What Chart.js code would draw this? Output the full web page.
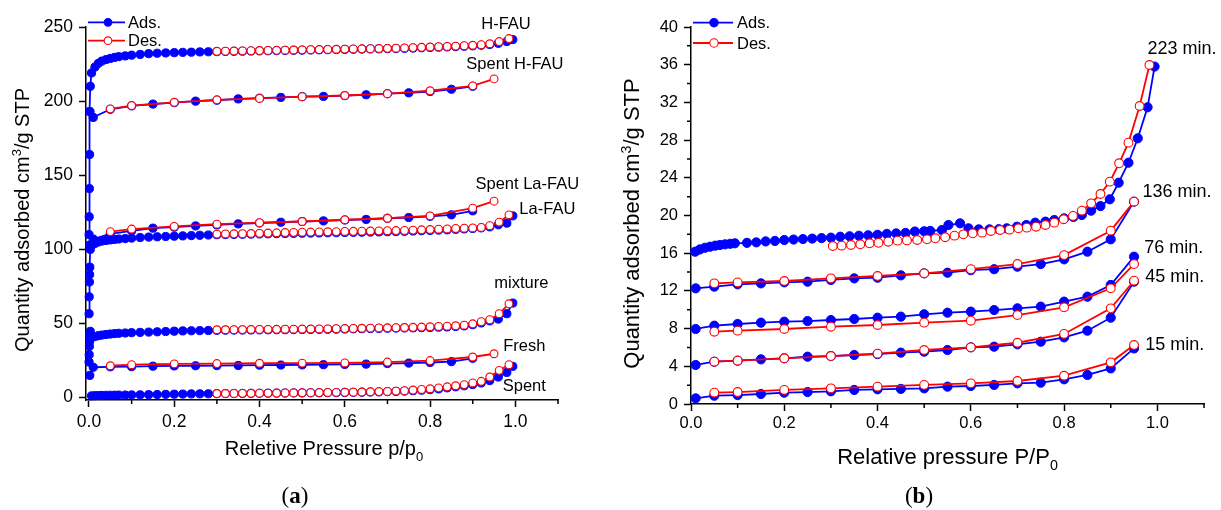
<!DOCTYPE html>
<html>
<head>
<meta charset="utf-8">
<script src="https://cdn.jsdelivr.net/npm/chart.js@4.4.1/dist/chart.umd.min.js"></script>
<style>
  html, body { margin: 0; padding: 0; background: #fff; }
  #wrap { position: relative; width: 1221px; height: 510px; background: #fff; }
  canvas { position: absolute; top: 0; }
  #chartA { left: 0; }
  #chartB { left: 610px; }
</style>
</head>
<body>
<div id="wrap">
  <canvas id="chartA" width="610" height="510"></canvas>
  <canvas id="chartB" width="611" height="510"></canvas>
</div>
<script>
// ---------- panel (a): N2 isotherms of the FAU samples ----------
const leftXTicks = [0, 0.2, 0.4, 0.6, 0.8, 1.0];
const leftXMinor = [0.1, 0.3, 0.5, 0.7, 0.9, 1.1];
const leftYTicks = [0, 50, 100, 150, 200, 250];

// dense measurement (H-FAU, La-FAU, mixture, Spent)
const denseAdsX = [0.0002, 0.0005, 0.001, 0.0015, 0.002, 0.003,
  0.006, 0.014, 0.022, 0.03, 0.04, 0.05, 0.06, 0.07, 0.085, 0.1,
  0.12, 0.14, 0.16, 0.18, 0.2, 0.22, 0.24, 0.26, 0.28, 0.3,
  0.32, 0.34, 0.36, 0.38, 0.4, 0.42, 0.44, 0.46, 0.48, 0.5,
  0.52, 0.54, 0.56, 0.58, 0.6, 0.62, 0.64, 0.66, 0.68, 0.7,
  0.72, 0.74, 0.76, 0.78, 0.8, 0.82, 0.84, 0.86, 0.88, 0.9,
  0.92, 0.94, 0.96, 0.98, 0.994];
const denseDesX = [0.3, 0.32, 0.34, 0.36, 0.38, 0.4, 0.42, 0.44, 0.46, 0.48,
  0.5, 0.52, 0.54, 0.56, 0.58, 0.6, 0.62, 0.64, 0.66, 0.68,
  0.7, 0.72, 0.74, 0.76, 0.78, 0.8, 0.82, 0.84, 0.86, 0.88,
  0.9, 0.92, 0.94, 0.962, 0.985];

const hfauAds = [110, 122, 141, 164, 193, 210,
  219, 223, 225.5, 227, 228, 228.8, 229.5, 230, 230.5, 231,
  231.5, 232, 232.3, 232.5, 232.7, 232.9, 233, 233.2, 233.3, 233.4,
  233.5, 233.6, 233.7, 233.8, 233.9, 234.0, 234.1, 234.2, 234.3, 234.4,
  234.5, 234.6, 234.7, 234.8, 234.9, 235.0, 235.1, 235.2, 235.3, 235.4,
  235.5, 235.6, 235.8, 236.0, 236.2, 236.4, 236.6, 236.8, 237.0, 237.3,
  237.7, 238.2, 239.0, 240.2, 241.5];
const hfauDes = [233.6, 233.7, 233.8, 233.9, 234.0, 234.1, 234.2, 234.3, 234.4, 234.5,
  234.6, 234.7, 234.8, 234.9, 235.0, 235.1, 235.2, 235.3, 235.4, 235.5,
  235.6, 235.7, 235.9, 236.1, 236.3, 236.5, 236.7, 236.9, 237.1, 237.4,
  237.7, 238.1, 238.7, 240.2, 242.2];

const laFauAds = [56.6, 68, 78, 83, 88, 100,
  102.5, 104, 105, 105.6, 106, 106.4, 106.7, 107, 107.3, 107.6,
  108, 108.3, 108.5, 108.7, 108.9, 109.1, 109.3, 109.5, 109.7, 109.9,
  110.0, 110.1, 110.2, 110.3, 110.4, 110.5, 110.6, 110.7, 110.8, 110.9,
  111.0, 111.1, 111.2, 111.3, 111.4, 111.5, 111.6, 111.7, 111.8, 111.9,
  112.0, 112.2, 112.4, 112.6, 112.8, 113.0, 113.2, 113.5, 113.8, 114.1,
  114.5, 115.2, 116.6, 117.7, 122.6];
const laFauDes = [110.3, 110.4, 110.5, 110.6, 110.7, 110.8, 111.0, 111.2, 111.4, 111.5,
  111.6, 111.7, 111.8, 111.9, 112.0, 112.1, 112.2, 112.3, 112.4, 112.5,
  112.6, 112.7, 112.8, 113.0, 113.2, 113.4, 113.6, 113.8, 114.1, 114.3,
  114.5, 114.8, 116.0, 118.4, 123.3];

const mixtureAds = [24, 29, 34.6, 38, 42, 44.7,
  40.5, 41.2, 41.8, 42.2, 42.6, 42.9, 43.2, 43.4, 43.6, 43.8,
  44.0, 44.2, 44.4, 44.6, 44.8, 45.0, 45.1, 45.2, 45.3, 45.4,
  45.5, 45.55, 45.6, 45.65, 45.7, 45.75, 45.8, 45.85, 45.9, 45.95,
  46.0, 46.05, 46.1, 46.2, 46.3, 46.4, 46.5, 46.6, 46.7, 46.8,
  46.9, 47.0, 47.1, 47.2, 47.3, 47.5, 47.7, 48.0, 48.4, 49.2,
  50.4, 51.8, 53.0, 56.6, 63.8];
const mixtureDes = [45.8, 45.8, 45.85, 45.9, 45.95, 46.0, 46.05, 46.1, 46.15, 46.2,
  46.25, 46.3, 46.35, 46.4, 46.5, 46.6, 46.7, 46.8, 46.9, 47.0,
  47.1, 47.2, 47.3, 47.45, 47.6, 47.8, 48.0, 48.2, 48.5, 48.9,
  49.8, 51.2, 52.6, 56.6, 63.3];

const spentAds = [null, null, null, null, null, null,
  1.2, 1.3, 1.4, 1.5, 1.55, 1.6, 1.65, 1.7, 1.75, 1.8,
  1.9, 2.0, 2.1, 2.2, 2.3, 2.4, 2.5, 2.55, 2.6, 2.7,
  2.75, 2.8, 2.85, 2.9, 2.95, 3.0, 3.05, 3.1, 3.15, 3.2,
  3.25, 3.3, 3.35, 3.4, 3.5, 3.6, 3.7, 3.8, 3.9, 4.05,
  4.2, 4.4, 4.7, 5.0, 5.4, 5.9, 6.6, 7.3, 8.0, 8.8,
  9.9, 11.5, 13.9, 17.0, 21.1];
const spentDes = [2.75, 2.8, 2.85, 2.9, 2.95, 3.0, 3.05, 3.1, 3.15, 3.2,
  3.3, 3.35, 3.4, 3.5, 3.55, 3.6, 3.7, 3.8, 3.95, 4.05,
  4.2, 4.4, 4.7, 5.1, 5.5, 6.0, 6.6, 7.3, 8.0, 8.8,
  9.9, 11.0, 13.9, 18.4, 22.2];

// sparse measurement (Spent H-FAU, Spent La-FAU, Fresh)
const sparseAdsX = [0.002, 0.01, 0.05, 0.1, 0.15, 0.2, 0.25, 0.3, 0.35, 0.4,
  0.45, 0.5, 0.55, 0.6, 0.65, 0.7, 0.75, 0.8, 0.85, 0.9];
const sparseDesX = [0.05, 0.1, 0.2, 0.3, 0.4, 0.5, 0.6, 0.7, 0.8, 0.9, 0.95];

const spentHfauAds = [193, 189, 194.5, 196.8, 198, 199, 200, 200.6, 201.5, 202,
  202.5, 203, 203.2, 203.7, 204.3, 205, 205.6, 206.5, 208, 210];
const spentHfauDes = [194.8, 197, 199.2, 200.9, 201.8, 203, 203.8, 205, 207, 210.3, 215];
const spentLaFauAds = [103, 107, 110.5, 112.5, 114.3, 115, 115.8, 116.5, 117.2, 117.8,
  118.3, 118.8, 119.2, 119.8, 120.2, 121, 121.5, 122.3, 123.3, 126];
const spentLaFauDes = [112, 113.7, 115.5, 117, 118, 118.8, 120, 121, 122.6, 127.8, 132.5];
const freshAds = [15, 20.5, 20.8, 20.9, 21.2, 21.4, 21.5, 21.6, 21.7, 21.9,
  22.0, 22.1, 22.2, 22.4, 22.6, 23.0, 23.3, 23.7, 24.3, 26.5];
const freshDes = [21.5, 22.2, 22.8, 23.0, 23.2, 23.3, 23.4, 24.0, 25.0, 27.4, 29.6];

const leftLabels = ["H-FAU", "Spent H-FAU", "Spent La-FAU", "La-FAU", "mixture", "Fresh", "Spent"];
const leftLabelX = [0.978, 0.999, 1.028, 1.075, 1.014, 1.021, 1.021];
const leftLabelY = [252, 225, 144, 127, 76.8, 34.3, 7.4];

// ---------- panel (b): isotherms after different times ----------
const rightXTicks = [0, 0.2, 0.4, 0.6, 0.8, 1.0];
const rightXMinor = [0.1, 0.3, 0.5, 0.7, 0.9, 1.1];
const rightYTicks = [0, 4, 8, 12, 16, 20, 24, 28, 32, 36, 40];
const rightYMinor = [2, 6, 10, 14, 18, 22, 26, 30, 34, 38];

const r223AdsX = [0.009, 0.019, 0.03, 0.041, 0.052, 0.062, 0.073, 0.084, 0.094,
  0.12, 0.14, 0.16, 0.18, 0.2, 0.22, 0.24, 0.26, 0.28, 0.3,
  0.32, 0.34, 0.36, 0.38, 0.4, 0.42, 0.44, 0.46, 0.48, 0.5,
  0.513, 0.538, 0.552, 0.577, 0.595, 0.617, 0.64, 0.66, 0.677, 0.699,
  0.719, 0.738, 0.76, 0.779, 0.8, 0.82, 0.838, 0.858, 0.878, 0.898,
  0.917, 0.938, 0.958, 0.979, 0.994];
const r223Ads = [16.16, 16.4, 16.58, 16.69, 16.8, 16.87, 16.94, 17.0, 17.05,
  17.1, 17.15, 17.25, 17.3, 17.4, 17.45, 17.5, 17.55, 17.6, 17.65,
  17.75, 17.8, 17.85, 17.9, 17.95, 18.05, 18.1, 18.15, 18.3, 18.33,
  18.36, 18.46, 18.99, 19.17, 18.64, 18.53, 18.53, 18.55, 18.64, 18.81,
  18.99, 19.24, 19.35, 19.52, 19.7, 19.85, 20.05, 20.51, 21.0, 21.72,
  23.48, 25.6, 28.19, 31.48, 35.8];
const r223DesX = [0.304, 0.323, 0.343, 0.363, 0.383, 0.402, 0.423, 0.443, 0.463, 0.485,
  0.506, 0.524, 0.545, 0.565, 0.584, 0.604, 0.624, 0.643, 0.663, 0.683,
  0.702, 0.72, 0.74, 0.76, 0.779, 0.799, 0.819, 0.838, 0.858, 0.878,
  0.898, 0.918, 0.938, 0.962, 0.983];
const r223Des = [16.76, 16.8, 16.87, 16.94, 17.05, 17.1, 17.22, 17.33, 17.36, 17.4,
  17.47, 17.58, 17.69, 17.86, 18.0, 18.11, 18.18, 18.36, 18.46, 18.5,
  18.64, 18.71, 18.81, 18.99, 19.24, 19.6, 19.95, 20.51, 21.29, 22.28,
  23.59, 25.54, 27.73, 31.62, 35.97];

const rAdsX = [0.01, 0.05, 0.1, 0.15, 0.2, 0.25, 0.3, 0.35, 0.4, 0.45,
  0.5, 0.55, 0.6, 0.65, 0.7, 0.75, 0.8, 0.85, 0.9, 0.95];
const rDesX = [0.05, 0.1, 0.2, 0.3, 0.4, 0.5, 0.6, 0.7, 0.8, 0.9, 0.95];

const r136Ads = [12.27, 12.45, 12.7, 12.8, 12.91, 12.98, 13.16, 13.33, 13.4, 13.65,
  13.86, 13.93, 14.2, 14.3, 14.57, 14.85, 15.35, 16.16, 17.47, 21.47];
const r136Des = [12.8, 12.9, 13.05, 13.33, 13.58, 13.86, 14.3, 14.85, 15.8, 18.39, 21.47];
const r76Ads = [7.96, 8.31, 8.49, 8.63, 8.73, 8.8, 8.91, 9.02, 9.16, 9.27,
  9.52, 9.69, 9.8, 9.97, 10.15, 10.33, 10.86, 11.39, 12.63, 15.63];
const r76Des = [7.67, 7.78, 7.96, 8.2, 8.38, 8.63, 8.84, 9.44, 10.26, 12.27, 14.85];
const r45Ads = [4.14, 4.49, 4.6, 4.74, 4.85, 5.02, 5.09, 5.2, 5.3, 5.45,
  5.55, 5.73, 6.01, 6.08, 6.33, 6.61, 7.07, 7.78, 9.16, 12.98];
const r45Des = [4.49, 4.6, 4.85, 5.09, 5.34, 5.73, 6.01, 6.5, 7.43, 10.15, 13.08];
const r15Ads = [0.6, 0.88, 0.95, 1.06, 1.2, 1.27, 1.35, 1.49, 1.56, 1.6,
  1.66, 1.84, 1.91, 2.02, 2.19, 2.26, 2.62, 3.08, 3.78, 5.9];
const r15Des = [1.2, 1.27, 1.49, 1.66, 1.84, 2.02, 2.19, 2.44, 3.0, 4.42, 6.26];

const rightLabels = ["223 min.", "136 min.", "76 min.", "45 min.", "15 min."];
const rightLabelX = [0.979, 0.968, 0.972, 0.974, 0.974];
const rightLabelY = [37.7, 22.5, 16.55, 13.5, 6.3];

// ---------- drawing ----------
const BLUE = "#0000ff";
const RED = "#ff0000";
const FONT = '"Liberation Sans", Arial, sans-serif';
const SERIF = '"Liberation Serif", "Times New Roman", serif';

Chart.defaults.font.family = FONT;
Chart.defaults.color = "#000";

function toPoints(xs, ys) {
  const pts = [];
  xs.forEach((x, i) => {
    if (ys[i] !== null) pts.push({ x: x, y: ys[i] });
  });
  return pts;
}

function adsSet(xs, ys, r) {
  return {
    data: toPoints(xs, ys),
    showLine: true,
    borderColor: BLUE,
    backgroundColor: BLUE,
    borderWidth: 1.8,
    pointRadius: r,
    pointBackgroundColor: BLUE,
    pointBorderColor: BLUE,
    pointBorderWidth: 1,
    order: 2,
    clip: false,
  };
}

function desSet(xs, ys, r) {
  return {
    data: toPoints(xs, ys),
    showLine: true,
    borderColor: RED,
    backgroundColor: "#fff",
    borderWidth: 1.8,
    pointRadius: r,
    pointBackgroundColor: "#fff",
    pointBorderColor: RED,
    pointBorderWidth: 1.1,
    order: 1,
    clip: false,
  };
}

// text with sub/superscripts, centred on x, y is the baseline
function drawRich(ctx, parts, x, y, size, family, rotate) {
  ctx.save();
  ctx.translate(x, y);
  if (rotate) ctx.rotate(-Math.PI / 2);
  ctx.textBaseline = "alphabetic";
  ctx.textAlign = "left";
  const fontOf = (p) => {
    const s = p.sub || p.sup ? size * 0.65 : size;
    return (p.bold ? "bold " : "") + s + "px " + family;
  };
  const widths = parts.map((p) => {
    ctx.font = fontOf(p);
    return ctx.measureText(p.t).width;
  });
  let cx = -widths.reduce((a, b) => a + b, 0) / 2;
  parts.forEach((p, i) => {
    ctx.font = fontOf(p);
    let dy = 0;
    if (p.sup) dy = -size * 0.38;
    if (p.sub) dy = size * 0.3;
    ctx.fillText(p.t, cx, dy);
    cx += widths[i];
  });
  ctx.restore();
}

function makeDecor(cfg) {
  return {
    id: "decor",
    afterDraw(chart) {
      const ctx = chart.ctx;
      const sx = chart.scales.x;
      const sy = chart.scales.y;
      const area = chart.chartArea;
      ctx.save();

      // minor ticks
      ctx.strokeStyle = "#000";
      ctx.lineWidth = 1.5;
      ctx.beginPath();
      cfg.minorX.forEach((v) => {
        const px = sx.getPixelForValue(v);
        ctx.moveTo(px, area.bottom);
        ctx.lineTo(px, area.bottom + cfg.minorLen);
      });
      cfg.minorY.forEach((v) => {
        const py = sy.getPixelForValue(v);
        ctx.moveTo(area.left, py);
        ctx.lineTo(area.left - cfg.minorLen, py);
      });
      ctx.stroke();

      // legend
      const lg = cfg.legend;
      [["Ads.", BLUE, true], ["Des.", RED, false]].forEach((row, i) => {
        const y = lg.rows[i];
        ctx.strokeStyle = row[1];
        ctx.lineWidth = 1.8;
        ctx.beginPath();
        ctx.moveTo(lg.x0, y);
        ctx.lineTo(lg.x1, y);
        ctx.stroke();
        ctx.beginPath();
        ctx.arc(lg.mx, y, lg.r, 0, Math.PI * 2);
        ctx.fillStyle = row[2] ? BLUE : "#fff";
        ctx.fill();
        ctx.lineWidth = 1.1;
        ctx.stroke();
        ctx.fillStyle = "#000";
        ctx.font = lg.size + "px " + FONT;
        ctx.textAlign = "left";
        ctx.textBaseline = "middle";
        ctx.fillText(row[0], lg.tx, y + 1);
      });

      // curve names
      ctx.fillStyle = "#000";
      ctx.font = cfg.labelSize + "px " + FONT;
      ctx.textAlign = cfg.labelAlign;
      ctx.textBaseline = "middle";
      cfg.labels.forEach((t, i) => {
        ctx.fillText(t, sx.getPixelForValue(cfg.labelX[i]), sy.getPixelForValue(cfg.labelY[i]));
      });

      // axis titles and panel letter
      ctx.fillStyle = "#000";
      drawRich(ctx, cfg.xTitle.parts, cfg.xTitle.x, cfg.xTitle.y, cfg.xTitle.size, FONT, false);
      drawRich(ctx, cfg.yTitle.parts, cfg.yTitle.x, cfg.yTitle.y, cfg.yTitle.size, FONT, true);
      drawRich(ctx, cfg.panel.parts, cfg.panel.x, cfg.panel.y, cfg.panel.size, SERIF, false);
      ctx.restore();
    },
  };
}

function axes(o) {
  const grid = { drawOnChartArea: false, drawTicks: true, tickLength: 7, tickWidth: 1.5, tickColor: "#000" };
  const border = { display: true, color: "#000", width: 1.5 };
  return {
    x: {
      type: "linear",
      min: o.xMin,
      max: o.xMax,
      afterBuildTicks: (s) => { s.ticks = o.xTicks.map((v) => ({ value: v })); },
      afterFit: (s) => { s.height = o.xHeight; },
      ticks: { color: "#000", font: { size: o.tickSize }, padding: o.xPad, maxRotation: 0, autoSkip: false,
        callback: (v) => Number(v).toFixed(1) },
      grid: grid,
      border: border,
    },
    y: {
      type: "linear",
      min: o.yMin,
      max: o.yMax,
      afterBuildTicks: (s) => { s.ticks = o.yTicks.map((v) => ({ value: v })); },
      afterFit: (s) => { s.width = o.yWidth; },
      ticks: { color: "#000", font: { size: o.tickSize }, padding: 6, autoSkip: false,
        callback: (v) => String(v) },
      grid: grid,
      border: border,
    },
  };
}

function baseOptions(padding, scales) {
  return {
    responsive: false,
    animation: false,
    events: [],
    layout: { padding: padding },
    plugins: { legend: { display: false }, tooltip: { enabled: false } },
    scales: scales,
  };
}

// panel (a)
new Chart(document.getElementById("chartA"), {
  type: "scatter",
  data: {
    datasets: [
      adsSet(denseAdsX, hfauAds, 4.1), desSet(denseDesX, hfauDes, 3.9),
      adsSet(sparseAdsX, spentHfauAds, 4.1), desSet(sparseDesX, spentHfauDes, 3.9),
      adsSet(sparseAdsX, spentLaFauAds, 4.1), desSet(sparseDesX, spentLaFauDes, 3.9),
      adsSet(denseAdsX, laFauAds, 4.1), desSet(denseDesX, laFauDes, 3.9),
      adsSet(denseAdsX, mixtureAds, 4.1), desSet(denseDesX, mixtureDes, 3.9),
      adsSet(sparseAdsX, freshAds, 4.1), desSet(sparseDesX, freshDes, 3.9),
      adsSet(denseAdsX, spentAds, 4.1), desSet(denseDesX, spentDes, 3.9),
    ],
  },
  options: baseOptions({ top: 27, right: 52, bottom: 0, left: 0 }, axes({
    xMin: -0.007, xMax: 1.1, xTicks: leftXTicks, xHeight: 110, xPad: 5,
    yMin: -1.6, yMax: 250, yTicks: leftYTicks, yWidth: 86, tickSize: 17.5,
  })),
  plugins: [makeDecor({
    minorX: leftXMinor, minorY: [], minorLen: 4,
    legend: { x0: 88, x1: 125, mx: 108, tx: 128, rows: [22.3, 40.7], r: 3.8, size: 16.5 },
    labels: leftLabels, labelX: leftLabelX, labelY: leftLabelY, labelAlign: "center", labelSize: 16.5,
    xTitle: { parts: [{ t: "Reletive Pressure p/p" }, { t: "0", sub: true }], x: 324, y: 454.7, size: 20 },
    yTitle: { parts: [{ t: "Quantity adsorbed cm" }, { t: "3", sup: true }, { t: "/g STP" }], x: 29, y: 220, size: 20 },
    panel: { parts: [{ t: "(" }, { t: "a", bold: true }, { t: ")" }], x: 295, y: 503, size: 23 },
  })],
});

// panel (b)
new Chart(document.getElementById("chartB"), {
  type: "scatter",
  data: {
    datasets: [
      adsSet(r223AdsX, r223Ads, 4.6), desSet(r223DesX, r223Des, 4.4),
      adsSet(rAdsX, r136Ads, 4.6), desSet(rDesX, r136Des, 4.4),
      adsSet(rAdsX, r76Ads, 4.6), desSet(rDesX, r76Des, 4.4),
      adsSet(rAdsX, r45Ads, 4.6), desSet(rDesX, r45Des, 4.4),
      adsSet(rAdsX, r15Ads, 4.6), desSet(rDesX, r15Des, 4.4),
    ],
  },
  options: baseOptions({ top: 27, right: 17, bottom: 0, left: 0 }, axes({
    xMin: 0, xMax: 1.1, xTicks: rightXTicks, xHeight: 106, xPad: 3,
    yMin: 0, yMax: 40, yTicks: rightYTicks, yWidth: 81, tickSize: 16.5,
  })),
  plugins: [makeDecor({
    minorX: rightXMinor, minorY: rightYMinor, minorLen: 4,
    legend: { x0: 83, x1: 123, mx: 104, tx: 127, rows: [22.7, 43], r: 4.2, size: 16.5 },
    labels: rightLabels, labelX: rightLabelX, labelY: rightLabelY, labelAlign: "left", labelSize: 18,
    xTitle: { parts: [{ t: "Relative pressure P/P" }, { t: "0", sub: true }], x: 337.5, y: 463.7, size: 22 },
    yTitle: { parts: [{ t: "Quantity adsorbed cm" }, { t: "3", sup: true }, { t: "/g STP" }], x: 29, y: 223.5, size: 22 },
    panel: { parts: [{ t: "(" }, { t: "b", bold: true }, { t: ")" }], x: 309, y: 503, size: 23 },
  })],
});
</script>
</body>
</html>
